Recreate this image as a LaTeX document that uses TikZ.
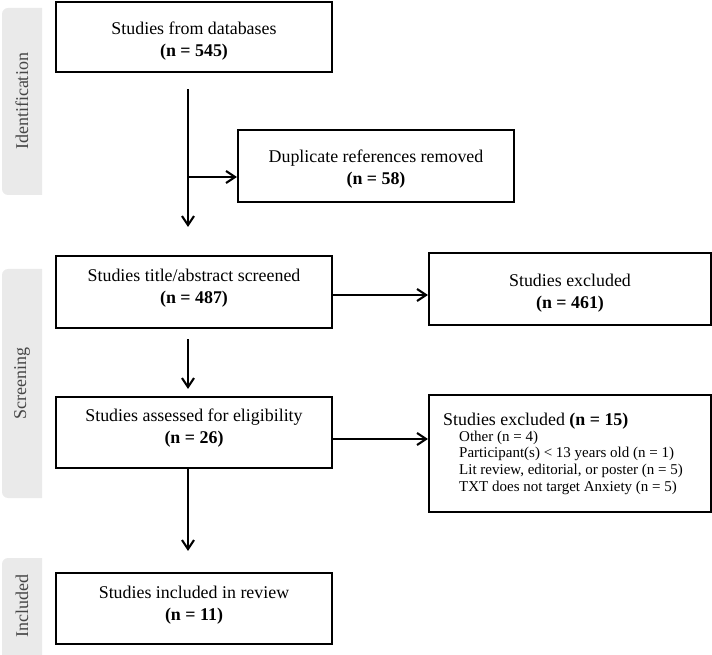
\documentclass[tikz,border=0pt]{standalone}
\usepackage{fontspec}
\setmainfont{Liberation Serif}
\usetikzlibrary{arrows.meta}
\definecolor{bandgray}{RGB}{234,234,234}
\definecolor{labelgray}{RGB}{70,70,70}
\begin{document}
\begin{tikzpicture}[x=1pt,y=1pt,
  box/.style={draw, line width=2.1pt, minimum width=276pt, minimum height=70pt, inner sep=0pt},
  boxtext/.style={align=center, font=\fontsize{17.9}{22}\selectfont, inner sep=0pt},
  bandlabel/.style={rotate=90, text=labelgray, font=\fontsize{18}{21}\selectfont, inner sep=0pt},
  arr/.style={line width=2.1pt, -{Straight Barb[length=9pt,width=12pt]}},
  itemtext/.style={align=left, font=\fontsize{15}{16.7}\selectfont, inner sep=0pt, anchor=north west}]
\useasboundingbox (0,0) rectangle (712,654);
% phase bands
\fill[bandgray] (42,459) {[rounded corners=6pt] -- (2,459) -- (2,646)} -- (42,646) -- cycle;
\node[bandlabel] (lid) at (22,552.5) {Identification};
\fill[bandgray] (42,156) {[rounded corners=6pt] -- (2,156) -- (2,385)} -- (42,385) -- cycle;
\node[bandlabel] (lsc) at (22,270.5) {Screening};
\fill[bandgray] (42,-8) {[rounded corners=6pt] -- (2,-8) -- (2,96)} -- (42,96) -- cycle;
\node[bandlabel] (lin) at (22,48) {Included};
% boxes
\node[box] (db) at (194,617) {};
\node[boxtext] (dbt) at ([yshift=-4pt]db.center) {Studies from databases\\\textbf{(n = 545)}};
\node[box, minimum height=72pt] (dup) at (376,488) {};
\node[boxtext] (dupt) at ([yshift=-3pt]dup.center) {Duplicate references removed\\\textbf{(n = 58)}};
\node[box, minimum height=72pt] (scr) at (194,362) {};
\node[boxtext] (scrt) at ([yshift=4pt]scr.center) {Studies title/abstract screened\\\textbf{(n = 487)}};
\node[box, minimum width=282pt, minimum height=72pt] (ex1) at (570,365) {};
\node[boxtext] (ex1t) at ([yshift=-4pt]ex1.center) {Studies excluded\\\textbf{(n = 461)}};
\node[box, minimum height=71pt] (elig) at (194,221.5) {};
\node[boxtext] (eligt) at ([yshift=4pt]elig.center) {Studies assessed for eligibility\\\textbf{(n = 26)}};
\node[box, minimum width=282pt, minimum height=117pt] (ex2) at (570,200.5) {};
\node[anchor=base west, inner sep=0pt, font=\fontsize{17.9}{22}\selectfont] (ex2h) at (443,229) {Studies excluded \textbf{(n = 15)}};
\node[itemtext] (ex2i) at (459,223.5) {Other (n = 4)\\Participant(s) < 13 years old (n = 1)\\Lit review, editorial, or poster (n = 5)\\TXT does not target Anxiety (n = 5)};
\node[box, minimum height=71pt] (inc) at (194,45.5) {};
\node[boxtext] (inct) at ([yshift=3pt]inc.center) {Studies included in review\\\textbf{(n = 11)}};
% connectors
\coordinate (branch) at (188,477);
\draw[arr] ([xshift=-6pt,yshift=-16pt]db.south) -- ([xshift=-6pt,yshift=28pt]scr.north);
\draw[arr] (branch) -- (branch -| dup.west);
\draw[arr] ([xshift=-6pt,yshift=-10pt]scr.south) -- ([xshift=-6pt,yshift=7pt]elig.north);
\draw[arr] ([xshift=-6pt]elig.south) -- ([xshift=-6pt,yshift=21pt]inc.north);
\draw[arr] ([yshift=-3pt]scr.east) -- ([yshift=-3pt]scr.east -| ex1.west);
\draw[arr] ([yshift=-6.5pt]elig.east) -- ([yshift=-6.5pt]elig.east -| ex2.west);
\end{tikzpicture}
\end{document}
